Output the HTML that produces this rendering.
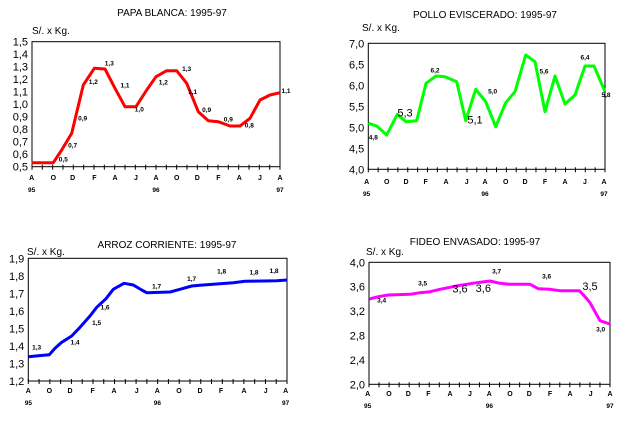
<!DOCTYPE html>
<html><head><meta charset="utf-8"><style>
html,body{margin:0;padding:0;background:#fff;}
svg{display:block;}
text{font-family:"Liberation Sans",sans-serif;}
</style></head><body>
<svg id="s" width="637" height="431" xmlns="http://www.w3.org/2000/svg"></svg>
<script>
const Z=1/3;
const charts=[
{ox:0,oy:0,L:32,R:280,T:41.7,B:166.7,yt:["1,5","1,4","1,3","1,2","1,1","1,0","0,9","0,8","0,7","0,6","0,5"],
 title:"PAPA BLANCA: 1995-97",tx:172,ty:16,kx:32,ky:34,color:"#ff0000",my:180,yy:192,
 mx:[95,160,218,283,345,408,468,530,592,655,718,780,840],
 pts:[[95,488],[160,488],[185,450],[215,400],[250,255],[283,205],[315,207],[345,265],[375,320],[408,320],[440,270],[468,230],[500,212],[530,212],[560,250],[595,335],[625,362],[655,365],[690,378],[720,378],[750,355],[780,300],[810,285],[840,278]],
 lab:[["0,5",190,485,0],["0,7",218,443,0],["0,9",248,362,0],["1,2",280,252,0],["1,3",328,197,0],["1,1",375,262,0],["1,0",418,335,0],["1,2",490,254,0],["1,3",560,213,0],["1,1",578,282,0],["0,9",620,336,0],["0,9",685,365,0],["0,8",748,382,0],["1,1",858,279,0]]},
{ox:320,oy:0,L:368.3,R:605,T:43.3,B:169.3,yt:["7,0","6,5","6,0","5,5","5,0","4,5","4,0"],
 title:"POLLO EVISCERADO: 1995-97",tx:485,ty:18,kx:362,ky:31,color:"#00ff00",my:184,yy:196,
 mx:[140,200,258,317,378,440,495,557,615,675,735,795,852],
 pts:[[145,370],[170,378],[200,405],[232,343],[258,365],[290,362],[318,250],[348,228],[375,230],[410,245],[437,362],[467,268],[497,305],[527,380],[557,308],[585,275],[617,165],[645,185],[675,335],[705,228],[735,312],[765,285],[795,198],[822,198],[855,275]],
 lab:[["4,8",160,418,0],["5,3",255,350,1],["6,2",345,218,0],["5,1",465,370,1],["5,0",518,281,0],["5,6",672,221,0],["6,4",795,178,0],["5,8",858,291,0]]},
{ox:0,oy:230,L:28.3,R:287,T:258.3,B:381,yt:["1,9","1,8","1,7","1,6","1,5","1,4","1,3","1,2"],
 title:"ARROZ CORRIENTE: 1995-97",tx:167,ty:248,kx:27,ky:255,color:"#0000ff",my:393,yy:405,
 mx:[85,148,210,278,342,410,472,537,600,663,732,797,857],
 pts:[[85,380],[115,377],[148,374],[165,355],[185,337],[215,318],[240,292],[270,258],[290,232],[318,206],[340,178],[372,160],[400,165],[425,180],[440,188],[510,186],[540,178],[575,168],[600,166],[650,162],[700,158],[735,154],[790,153],[830,152],[862,150]],
 lab:[["1,3",110,358,0],["1,4",225,343,0],["1,5",290,285,0],["1,6",315,238,0],["1,7",470,175,0],["1,7",575,153,0],["1,8",665,131,0],["1,8",762,134,0],["1,8",822,129,0]]},
{ox:320,oy:230,L:369,R:610,T:262.3,B:384.3,yt:["4,0","3,6","3,2","2,8","2,4","2,0"],
 title:"FIDEO ENVASADO: 1995-97",tx:475,ty:245,kx:366,ky:255,color:"#ff00ff",my:396,yy:408,
 mx:[143,207,265,325,390,450,508,570,628,690,750,812,870],
 pts:[[148,207],[175,200],[205,195],[270,193],[300,188],[330,185],[360,178],[390,172],[420,166],[470,158],[510,153],[540,160],[570,163],[630,163],[655,176],[690,178],[720,182],[778,182],[795,200],[810,218],[825,245],[840,272],[870,282]],
 lab:[["3,4",185,218,0],["3,5",308,166,0],["3,6",420,188,1],["3,6",490,186,1],["3,7",530,131,0],["3,6",680,146,0],["3,5",810,180,1],["3,0",842,305,0]]}
];
const months=["A","O","D","F","A","J","A","O","D","F","A","J","A"];
let h="";
for(const c of charts){
  h+=`<rect x="${c.L}" y="${c.T}" width="${c.R-c.L}" height="${c.B-c.T}" fill="none" stroke="#000" stroke-width="1"/>`;
  const n=c.yt.length;
  c.yt.forEach((t,i)=>{const y=c.T+(c.B-c.T)*i/(n-1);
    h+=`<text x="${c.L-4}" y="${y+4}" font-size="11" text-anchor="end">${t}</text>`;});
  for(let i=0;i<=24;i++){const x=c.L+(c.R-c.L)*i/24;h+=`<line x1="${x}" y1="${c.B-2}" x2="${x}" y2="${c.B+3}" stroke="#000"/>`;}
  c.mx.forEach((m,i)=>{const x=c.ox+m*Z;h+=`<text x="${x}" y="${c.my}" font-size="7" font-weight="bold" text-anchor="middle">${months[i]}</text>`;});
  const yrs=[["95",c.mx[0]],["96",c.mx[6]],["97",c.mx[12]]];
  yrs.forEach(([t,m])=>{h+=`<text x="${c.ox+m*Z}" y="${c.yy}" font-size="6.5" font-weight="bold" text-anchor="middle">${t}</text>`;});
  h+=`<text x="${c.tx}" y="${c.ty}" font-size="10" text-anchor="middle">${c.title}</text>`;
  h+=`<text x="${c.kx}" y="${c.ky}" font-size="10">S/. x Kg.</text>`;
  h+=`<polyline fill="none" stroke="${c.color}" stroke-width="3" stroke-linejoin="round" points="${c.pts.map(p=>(c.ox+p[0]*Z).toFixed(1)+","+(c.oy+p[1]*Z).toFixed(1)).join(" ")}"/>`;
  c.lab.forEach(([t,x,y,big])=>{
    h+= big?`<text x="${c.ox+x*Z}" y="${c.oy+y*Z}" font-size="11" text-anchor="middle">${t}</text>`
           :`<text x="${c.ox+x*Z}" y="${c.oy+y*Z}" font-size="6.5" font-weight="bold" text-anchor="middle">${t}</text>`;
  });
}
document.getElementById("s").innerHTML=h;
</script>
</body></html>
